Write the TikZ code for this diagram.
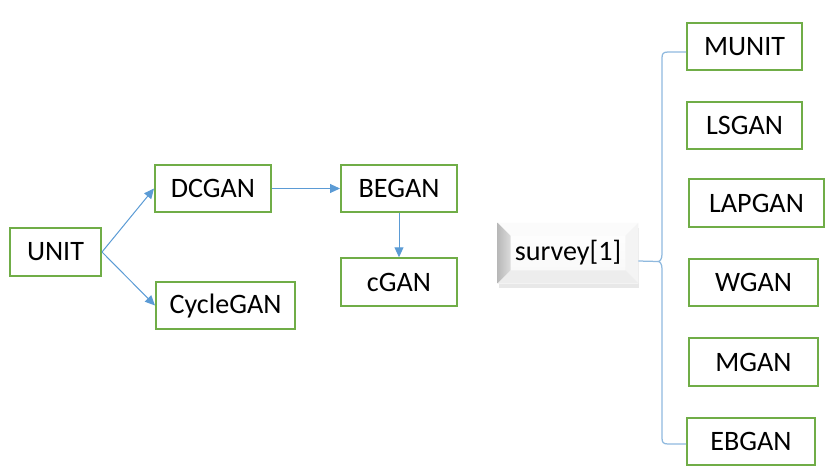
\documentclass[tikz,border=0pt]{standalone}
\usepackage{fontspec}
\setmainfont{Carlito}
\usepackage{xcolor}
\usetikzlibrary{positioning,arrows.meta,shadows}
\definecolor{boxgreen}{RGB}{112,173,71}
\definecolor{arrowblue}{RGB}{91,155,213}
\definecolor{braceblue}{RGB}{143,185,222}

\begin{document}
\begin{tikzpicture}[
    gbox/.style={draw=boxgreen, line width=0.04cm, rectangle, minimum height=0.95cm, inner sep=0pt, font=\fontsize{16}{19}\selectfont},
    link/.style={draw=arrowblue, line width=0.02cm, -{Triangle[length=0.2cm,width=0.18cm]}},
    brace/.style={draw=braceblue, line width=0.025cm}
]
        \useasboundingbox (0,0) rectangle (16.52,-9.5);

        % Left tree
        \node [gbox, minimum width=1.82cm] (UNIT) at (1.11,-5.04) {UNIT};
        \node [gbox, minimum width=2.32cm, right=1.04cm of UNIT, yshift=1.27cm] (DCGAN) {DCGAN};
        \node [gbox, minimum width=2.78cm, right=1.06cm of UNIT, yshift=-1.07cm] (CycleGAN) {CycleGAN};
        \node [gbox, minimum width=2.32cm, right=1.36cm of DCGAN] (BEGAN) {BEGAN};
        \node [gbox, minimum width=2.32cm, below=0.88cm of BEGAN] (cGAN) {cGAN};

        % Arrows
        \draw [link] (UNIT.east) -- (DCGAN.west);
        \draw [link] (UNIT.east) -- (CycleGAN.west);
        \draw [link] (DCGAN.east) -- (BEGAN.west);
        \draw [link] (BEGAN.south) -- (cGAN.north);

        % Survey (bevelled box)
        \node [minimum width=2.8cm, minimum height=1.2cm, inner sep=0pt, top color=white, bottom color=gray!6,
               drop shadow={shadow xshift=0.01cm, shadow yshift=-0.1cm, opacity=0.18},
               font=\fontsize{16}{19}\selectfont] (survey) at (11.36,-5.06) {survey[1]};
        \shade [left color=gray!55, right color=gray!28] (survey.north west) -- ([xshift=0.26cm,yshift=-0.26cm]survey.north west)
              -- ([xshift=0.26cm,yshift=0.26cm]survey.south west) -- (survey.south west) -- cycle;
        \fill [gray!3] (survey.north west) -- (survey.north east) -- ([xshift=-0.26cm,yshift=-0.26cm]survey.north east)
              -- ([xshift=0.26cm,yshift=-0.26cm]survey.north west) -- cycle;
        \fill [gray!9] (survey.north east) -- (survey.south east) -- ([xshift=-0.26cm,yshift=0.26cm]survey.south east)
              -- ([xshift=-0.26cm,yshift=-0.26cm]survey.north east) -- cycle;
        \fill [gray!14] (survey.south west) -- (survey.south east) -- ([xshift=-0.26cm,yshift=0.26cm]survey.south east)
              -- ([xshift=0.26cm,yshift=0.26cm]survey.south west) -- cycle;

        % Right column
        \node [gbox, minimum width=2.30cm, anchor=west] (MUNIT) at (13.72,-0.93) {MUNIT};
        \node [gbox, minimum width=2.30cm, anchor=west] (LSGAN) at (13.72,-2.51) {LSGAN};
        \node [gbox, minimum width=2.70cm, anchor=west] (LAPGAN) at (13.76,-4.06) {LAPGAN};
        \node [gbox, minimum width=2.58cm, anchor=west] (WGAN) at (13.76,-5.65) {WGAN};
        \node [gbox, minimum width=2.58cm, anchor=west] (MGAN) at (13.76,-7.24) {MGAN};
        \node [gbox, minimum width=2.56cm, anchor=west] (EBGAN) at (13.72,-8.83) {EBGAN};

        % Brace
        \coordinate (tip) at (13.16,-5.23);
        \draw [brace] ([yshift=-0.11cm]MUNIT.west) -- (13.36,-1.04)
              .. controls (13.26,-1.04) and (13.24,-1.08) .. (13.24,-1.16) -- (13.24,-5.08)
              .. controls (13.24,-5.18) and (13.2,-5.23) .. (tip)
              .. controls (13.2,-5.23) and (13.24,-5.28) .. (13.24,-5.38) -- (13.24,-8.76)
              .. controls (13.24,-8.84) and (13.26,-8.88) .. (13.36,-8.88) -- ([yshift=-0.05cm]EBGAN.west);
        \draw [brace] ([yshift=-0.16cm]survey.east) -- (tip);
\end{tikzpicture}
\end{document}
